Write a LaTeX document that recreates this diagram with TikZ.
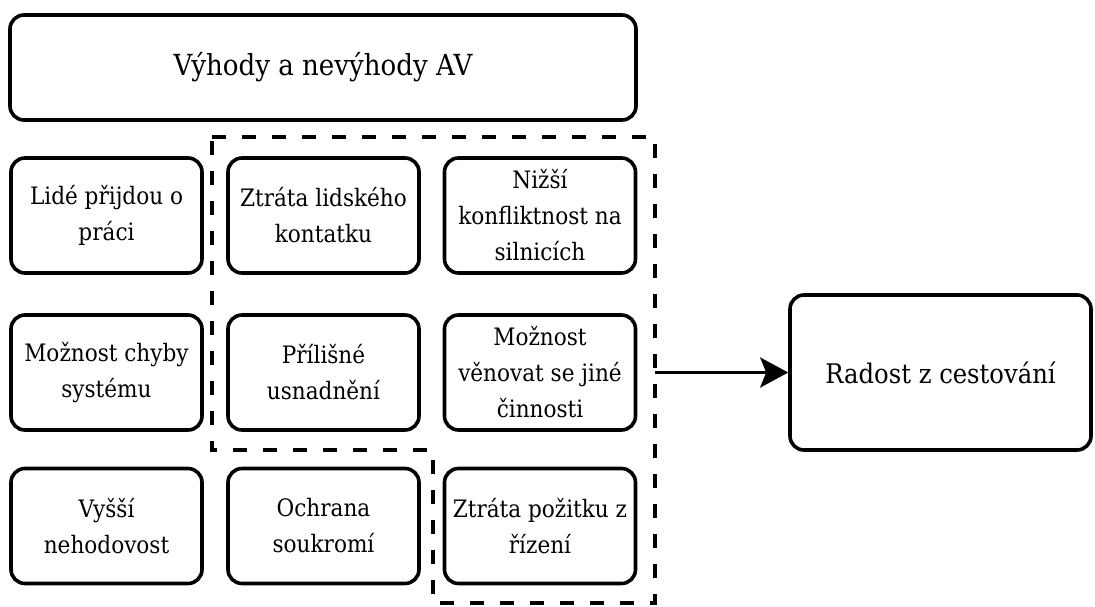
\documentclass[tikz,border=0pt]{standalone}
\usepackage{fontspec}
\setmainfont{DejaVu Serif Condensed}
\usetikzlibrary{arrows.meta}
\begin{document}
\begin{tikzpicture}[x=1pt,y=-1pt,
  box/.style={draw, line width=3.6pt, rounded corners=14pt, align=center, inner sep=0pt},
  cell/.style={box, minimum width=191pt, minimum height=115pt,
    font=\fontsize{24}{36}\selectfont},
  group/.style={draw, line width=3.6pt, dash pattern=on 14pt off 16pt},
  link/.style={line width=3.6pt, -{Stealth[length=28pt,width=30pt,inset=6pt]}}
]
\useasboundingbox (0,0) rectangle (1095,606);

% title
\node[box, minimum width=626pt, minimum height=105pt,
  font=\fontsize{29}{36}\selectfont] (title) at (323,67.5) {Výhody a nevýhody AV};

% first row
\node[cell] (c11) at (106.5,215.5) {Lidé přijdou o\\práci};
\node[cell] (c12) at (323.5,215.5) {Ztráta lidského\\kontatku};
\node[cell] (c13) at (540,215.5) {Nižší\\konfliktnost na\\silnicích};

% second row
\node[cell] (c21) at (106.5,372.5) {Možnost chyby\\systému};
\node[cell] (c22) at (323.5,372.5) {Přílišné\\usnadnění};
\node[cell] (c23) at (540,372.5) {Možnost\\věnovat se jiné\\činnosti};

% third row
\node[cell] (c31) at (106.5,526) {Vyšší\\nehodovost};
\node[cell] (c32) at (323.5,526) {Ochrana\\soukromí};
\node[cell] (c33) at (540,526) {Ztráta požitku z\\řízení};

% result
\node[box, minimum width=301pt, minimum height=155pt,
  font=\fontsize{27}{36}\selectfont] (joy) at (940.5,372.5) {Radost z cestování};

% dashed group around the positive factors
\draw[group] (212,137) -- (655,137) -- (655,603) -- (433,603) -- (433,450) -- (212,450) -- cycle;
\coordinate (gE) at (655,372.5);

\draw[link] (gE) -- (joy.west);
\end{tikzpicture}
\end{document}
